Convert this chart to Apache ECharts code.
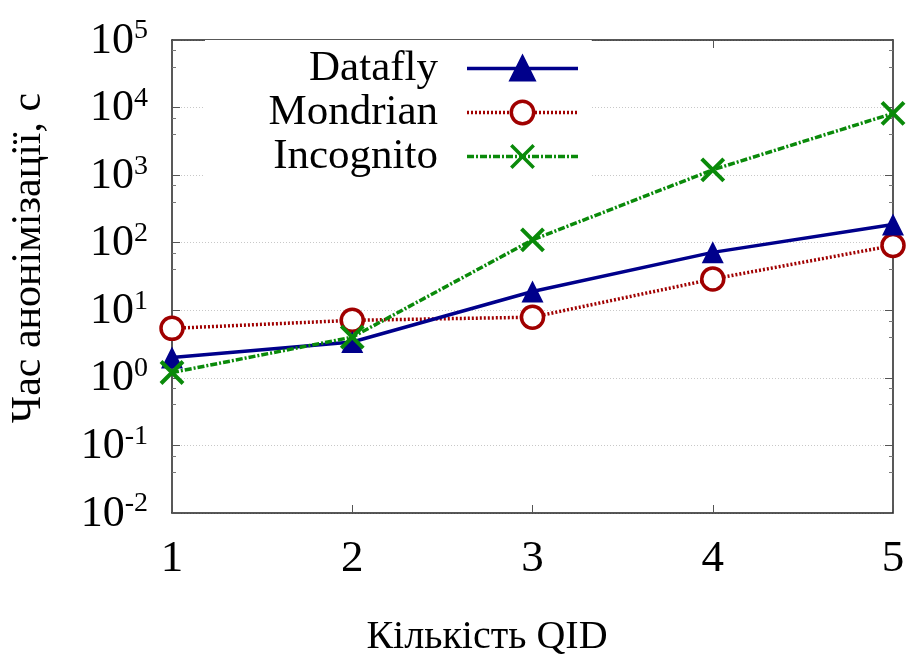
<!DOCTYPE html>
<html>
<head>
<meta charset="utf-8">
<script src="https://cdn.jsdelivr.net/npm/echarts@6/dist/echarts.min.js"></script>
<style>html,body{margin:0;padding:0;background:#fff;}#c{width:908px;height:657px;}</style>
</head>
<body>
<div id="c"></div>
<script>
var categories = ['1', '2', '3', '4', '5'];
var datafly = [2.0, 3.4, 19, 72, 186];
var mondrian = [5.4, 7.1, 7.9, 29, 91];
var incognito = [1.2, 4.0, 110, 1200, 8200];
var yMin = 0.01, yMax = 100000;
var xTitle = 'Кількість QID';
var yTitle = 'Час анонімізації, с';

var FONT = 'Liberation Serif';
var chart = echarts.init(document.getElementById('c'), null, {renderer: 'canvas'});
var crossPath = 'path://M0,0L10,10M10,0L0,10';

function yLabel(v) {
  var e = Math.round(Math.log10(v));
  return '{b|10}{s|' + e + '}';
}

var option = {
  backgroundColor: '#fff',
  animation: false,
  textStyle: {fontFamily: FONT},
  grid: {left: 172, right: 15, top: 40, bottom: 144, show: false, containLabel: false, outerBoundsMode: 'none'},
  legend: {
    show: true,
    orient: 'vertical',
    left: 205,
    top: 40,
    align: 'right',
    backgroundColor: '#fff',
    padding: [7, 12, 10, 10],
    itemGap: 1,
    itemWidth: 111,
    itemHeight: 28,
    lineStyle: {width: 3.5},
    itemStyle: {borderWidth: 3.5},
    textStyle: {fontFamily: FONT, fontSize: 43, color: '#000', width: 223, align: 'right', lineHeight: 34, padding: [0, 24, 0, 0]},
    data: ['Datafly', 'Mondrian', 'Incognito']
  },
  graphic: [{
    type: 'text',
    x: 487, y: 637,
    style: {text: xTitle, fontFamily: FONT, fontSize: 40, fill: '#000', align: 'center', verticalAlign: 'middle'}
  }, {
    type: 'text',
    x: 29, y: 258,
    rotation: Math.PI / 2,
    style: {text: yTitle, fontFamily: FONT, fontSize: 42, fill: '#000', align: 'center', verticalAlign: 'middle'}
  }],
  xAxis: [{
    type: 'category',
    data: categories,
    boundaryGap: false,
    position: 'bottom',
    axisLine: {show: true, lineStyle: {color: '#222', width: 1.5}},
    axisTick: {show: true, inside: true, length: 8, alignWithLabel: true, lineStyle: {color: '#555'}},
    axisLabel: {fontFamily: FONT, fontSize: 45, color: '#000', margin: 24},
    splitLine: {show: false}
  }, {
    type: 'category',
    data: categories,
    boundaryGap: false,
    position: 'top',
    axisLine: {show: true, lineStyle: {color: '#222', width: 1.5}},
    axisTick: {show: true, inside: true, length: 8, lineStyle: {color: '#555'}},
    axisLabel: {show: false},
    splitLine: {show: false}
  }],
  yAxis: [{
    type: 'log',
    logBase: 10,
    min: yMin,
    max: yMax,
    interval: 1,
    position: 'left',
    axisLine: {show: true, lineStyle: {color: '#222', width: 1.5}},
    axisTick: {show: true, inside: true, length: 8, lineStyle: {color: '#555'}},
    minorTick: {show: true, splitNumber: 3, length: 4, lineStyle: {color: '#777'}},
    axisLabel: {
      formatter: yLabel,
      margin: 24,
      fontFamily: FONT,
      rich: {
        b: {fontFamily: FONT, fontSize: 44, color: '#000', verticalAlign: 'bottom', lineHeight: 46},
        s: {fontFamily: FONT, fontSize: 28, color: '#000', verticalAlign: 'top', padding: [0, 0, 22, 0], lineHeight: 46}
      }
    },
    splitLine: {show: true, lineStyle: {color: '#c8c8c8', type: [1, 2], width: 1}}
  }, {
    type: 'log',
    logBase: 10,
    min: yMin,
    max: yMax,
    interval: 1,
    position: 'right',
    axisLine: {show: true, lineStyle: {color: '#222', width: 1.5}},
    axisTick: {show: true, inside: true, length: 8, lineStyle: {color: '#555'}},
    minorTick: {show: true, splitNumber: 3, length: 4, lineStyle: {color: '#777'}},
    axisLabel: {show: false},
    splitLine: {show: false}
  }],
  series: [{
    name: 'Datafly',
    type: 'line',
    data: datafly,
    symbol: 'triangle',
    symbolSize: 22,
    lineStyle: {color: '#00008b', width: 3.5, type: 'solid'},
    itemStyle: {color: '#00008b', borderColor: '#00008b', borderWidth: 0},
    z: 3
  }, {
    name: 'Mondrian',
    type: 'line',
    data: mondrian,
    symbol: 'circle',
    symbolSize: 22,
    lineStyle: {color: '#a00000', width: 3.5, type: [2, 2]},
    itemStyle: {color: '#fff', borderColor: '#a00000', borderWidth: 3.5},
    z: 2
  }, {
    name: 'Incognito',
    type: 'line',
    data: incognito,
    symbol: crossPath,
    symbolSize: 22,
    lineStyle: {color: '#0a8a0a', width: 3.5, type: [7, 2, 2, 2]},
    itemStyle: {color: 'none', borderColor: '#0a8a0a', borderWidth: 4},
    z: 4
  }]
};
chart.setOption(option);
</script>
</body>
</html>
